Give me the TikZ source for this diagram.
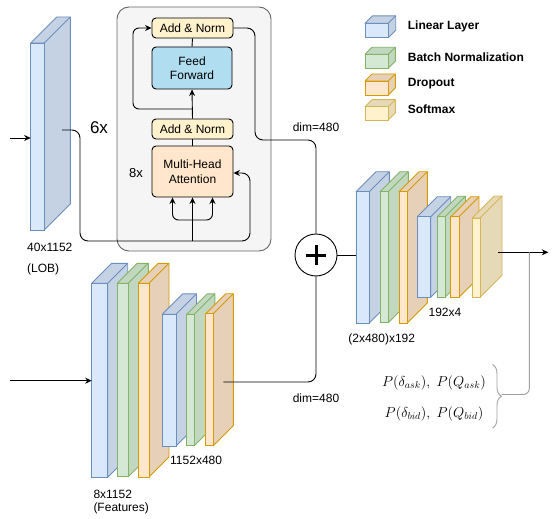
\documentclass[tikz,border=0pt]{standalone}
\usepackage{fontspec}
\setmainfont{Liberation Sans}
\usetikzlibrary{arrows.meta,decorations.pathreplacing,calc}
\definecolor{bluefill}{HTML}{DAE8FC}\definecolor{blueline}{HTML}{6C8EBF}\definecolor{bluedark}{HTML}{C5D2E4}
\definecolor{greenfill}{HTML}{D5E8D4}\definecolor{greenline}{HTML}{82B366}\definecolor{greendark}{HTML}{C1D7C0}
\definecolor{orangefill}{HTML}{FFE6CC}\definecolor{orangeline}{HTML}{D79B00}\definecolor{orangedark}{HTML}{E6D0B8}
\definecolor{yellowfill}{HTML}{FFF2CC}\definecolor{yellowline}{HTML}{D6B656}\definecolor{yellowdark}{HTML}{E6D9B7}
\definecolor{fffill}{HTML}{B1DDF0}
\definecolor{boxbg}{HTML}{F5F5F5}\definecolor{boxline}{HTML}{666666}
\definecolor{bracegray}{HTML}{A0A0A0}
\newcommand\slab[7]{%
  \path[fill=#7dark, draw=#7line, line width=0.9pt, line join=round] (#2,#3) -- ++(#6,-#6) -- ++(#4,0) -- ++(0,#5) -- ++(-#6,#6) -- ++(0,-#5) -- cycle;
  \draw[#7line, line width=0.9pt] (#2+#4,#3) -- ++(#6,-#6);
  \node[draw=#7line, fill=#7fill, line width=0.9pt, minimum width=#4pt, minimum height=#5pt, anchor=north west, inner sep=0pt, outer sep=0pt] (#1) at (#2,#3) {};
}
\begin{document}
\begin{tikzpicture}[x=1pt,y=-1pt, font=\fontsize{12}{14}\selectfont,
  line/.style={draw=black, line width=0.9pt},
  arr/.style={line, -{Stealth[length=6.5pt,width=6pt]}},
  block/.style={draw=black, line width=0.9pt, rounded corners=4pt, align=center, inner sep=0pt},
  lbl/.style={inner sep=0pt},
  legtext/.style={anchor=west, inner sep=0pt, font=\bfseries\fontsize{12}{14}\selectfont}]
\useasboundingbox (0,0) rectangle (552,519);

% transformer box
\node[draw=boxline, fill=boxbg, line width=0.9pt, rounded corners=12pt, minimum width=154pt, minimum height=244pt, inner sep=0pt] (tbox) at (194,129) {};

% LOB input layer
\slab{lob}{30.7}{43}{13.6}{187}{26}{blue}

% feature stack
\slab{b1}{91.7}{283.3}{16}{194}{20}{blue}
\slab{g1}{117.3}{283.3}{11}{193.5}{20}{green}
\slab{o1}{138.3}{283.3}{10.7}{193.7}{20}{orange}
\slab{b2}{162.3}{314.3}{13.7}{131.7}{20.5}{blue}
\slab{g2}{186.7}{314.3}{7.6}{131.4}{20.5}{green}
\slab{o2}{205.7}{313.7}{7.6}{132}{20}{orange}

% output stack
\slab{b3}{356}{191.7}{13.3}{131.3}{20}{blue}
\slab{g3}{380}{191.7}{8.3}{131}{20}{green}
\slab{o3}{399}{191.7}{8.3}{131.3}{20}{orange}
\slab{b4}{417.3}{216.7}{13.4}{80.6}{20}{blue}
\slab{g4}{437.3}{216.7}{7.7}{80.6}{20.5}{green}
\slab{o4}{450.7}{216.7}{8.3}{80.6}{20}{orange}
\slab{y4}{472.3}{218}{7.7}{79.3}{22}{yellow}

% legend
\slab{lg1}{365}{23.3}{23.3}{14.4}{7.4}{blue}
\slab{lg2}{365}{54.3}{23.3}{14}{7}{green}
\slab{lg3}{365}{81}{23.3}{14}{7}{orange}
\slab{lg4}{365}{106.7}{23.3}{13.3}{7}{yellow}
\node[legtext] (lt1) at (407.7,26.7) {Linear Layer};
\node[legtext] (lt2) at (407.7,57.7) {Batch Normalization};
\node[legtext] (lt3) at (407.7,83.3) {Dropout};
\node[legtext] (lt4) at (407.7,109.3) {Softmax};

% transformer blocks
\node[block, fill=yellowfill, minimum width=81pt, minimum height=20pt] (an2) at (192.5,28) {Add \& Norm};
\node[block, fill=fffill, minimum width=80pt, minimum height=42pt, font=\fontsize{12}{14.5}\selectfont] (ff) at (192,68) {Feed\\Forward};
\node[block, fill=yellowfill, minimum width=81pt, minimum height=20pt] (an1) at (192.5,129) {Add \& Norm};
\node[block, fill=orangefill, minimum width=81pt, minimum height=51pt, font=\fontsize{12}{15.5}\selectfont] (mha) at (192.5,171.5) {Multi-Head\\Attention};
\node[lbl, font=\fontsize{17}{18}\selectfont] (six) at (99,128) {6x};
\node[lbl, font=\fontsize{13}{15}\selectfont] (eight) at (136,173) {8x};

% plus
\node[circle, draw=black, fill=white, line width=0.9pt, minimum size=42pt, inner sep=0pt] (plus) at (316,255) {};
\draw[line width=3pt] (plus.center) +(-10,0) -- +(10,0);
\draw[line width=3pt] (plus.center) +(0,-10) -- +(0,10);

% connectors
\coordinate (lobin) at (10,138);
\draw[arr] (lobin) -- (lobin -| lob.west);
\coordinate (lobout) at (62,130);
\coordinate (busL) at (80,241);
\coordinate (kv) at (250,173);
\draw[arr, rounded corners=8pt] (lobout) -| (busL) -| (kv) -- (kv -| mha.east);
\draw[arr] (mha.south |- busL) -- (mha.south);
\coordinate (split) at (192.5,220);
\draw[arr, rounded corners=6pt] (split) -| ([xshift=-20pt]mha.south);
\draw[arr, rounded corners=6pt] (split) -| ([xshift=20pt]mha.south);
\draw[line] (mha.north) -- (an1.south);
\draw[arr] (an1.north) -- (ff.south);
\coordinate (res) at (192.5,109);
\coordinate (resL) at (133,109);
\draw[arr, rounded corners=6pt] (res) -- (resL) |- (an2.west);
\draw[line] (ff.north) -- (an2.south);
\coordinate (encR) at (255,140);
\draw[line, rounded corners=8pt] (an2.east) -| (encR) -| (plus.north);
\coordinate (featin) at (10,380.7);
\draw[arr] (featin) -- (featin -| b1.west);
\coordinate (featout) at (223.3,382);
\draw[line, rounded corners=8pt] (featout) -| (plus.south);
\draw[line] (plus.east) -- (plus.east -| b3.west);
\coordinate (fin) at (498.3,252.3);
\coordinate (fout) at (548.3,252.3);
\draw[arr] (fin) -- (fout);
\coordinate (gtop) at (529.3,252.3);
\coordinate (btip) at (501.5,394.5);
\draw[bracegray, line width=0.9pt, rounded corners=6pt] (gtop) |- (btip);
\draw[bracegray, line width=0.9pt, decorate, decoration={brace, amplitude=9pt}] (492.5,364.5) -- (492.5,428);

% labels
\node[lbl, anchor=west] (l40) at (27,247) {40x1152};
\node[lbl, anchor=west] (llob) at (27,269) {(LOB)};
\node[lbl] (dim1) at (316,127) {dim=480};
\node[lbl] (dim2) at (316,398) {dim=480};
\node[lbl, anchor=west] (l1152) at (170,460) {1152x480};
\node[lbl, anchor=west] (l8) at (93.3,494) {8x1152};
\node[lbl, anchor=west] (lfeat) at (93.3,508.3) {(Features)};
\node[lbl] (l2x) at (381.7,339.3) {(2x480)x192};
\node[lbl] (l192) at (445,312) {192x4};
\node[lbl, font=\fontsize{14}{16}\selectfont] (pa) at (434,383) {$P(\delta_{ask}),\ P(Q_{ask})$};
\node[lbl, font=\fontsize{14}{16}\selectfont] (pb) at (434,414) {$P(\delta_{bid}),\ P(Q_{bid})$};
\end{tikzpicture}
\end{document}
